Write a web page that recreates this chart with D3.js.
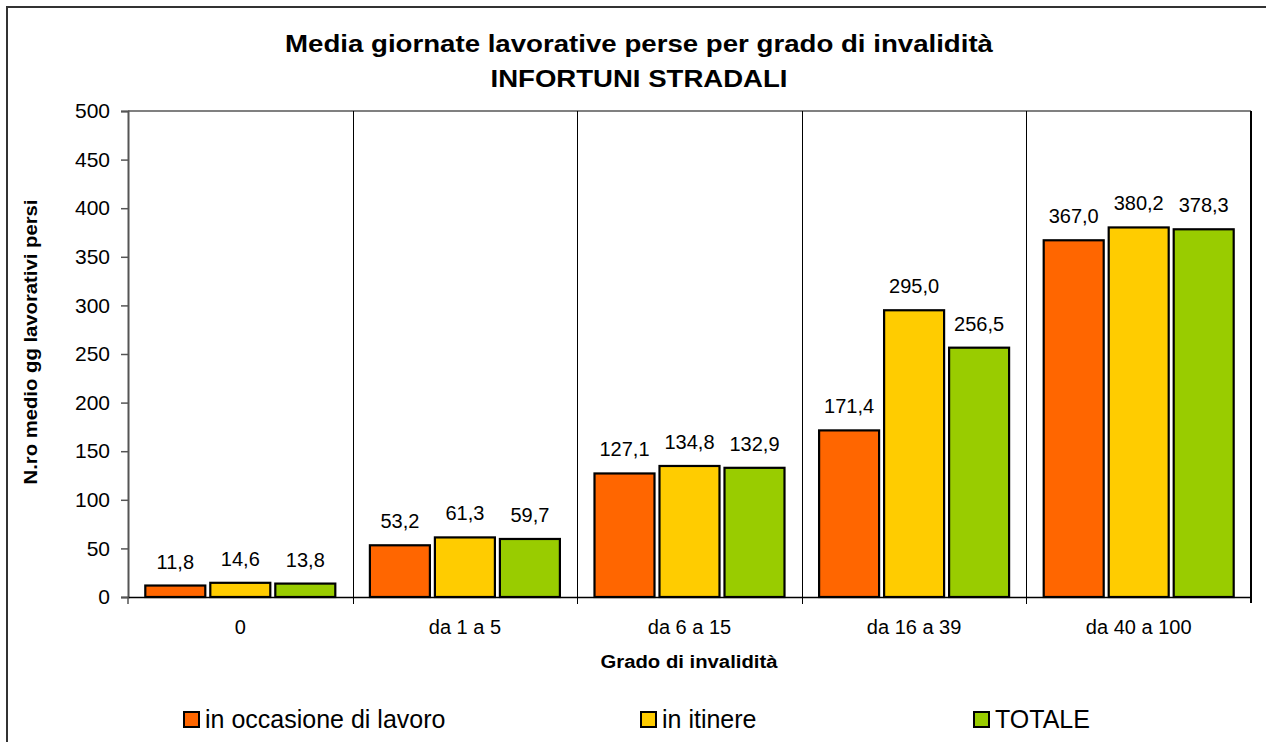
<!DOCTYPE html>
<html>
<head>
<meta charset="utf-8">
<script src="https://cdn.jsdelivr.net/npm/d3@7"></script>
<style>
  html, body { margin: 0; padding: 0; background: #fff; }
  svg { display: block; font-family: "Liberation Sans", Arial, sans-serif; }
</style>
</head>
<body>
<svg id="chart" width="1266" height="742"></svg>
<script>
// Categories (grado di invalidità)
const categories = ["0", "da 1 a 5", "da 6 a 15", "da 16 a 39", "da 40 a 100"];
// Series names
const seriesNames = ["in occasione di lavoro", "in itinere", "TOTALE"];
// Series values (media giornate perse)
const lavoro   = [11.8, 53.2, 127.1, 171.4, 367.0];
const itinere  = [14.6, 61.3, 134.8, 295.0, 380.2];
const totale   = [13.8, 59.7, 132.9, 256.5, 378.3];
// Y axis ticks
const yTicks = [0, 50, 100, 150, 200, 250, 300, 350, 400, 450, 500];

const seriesValues = [lavoro, itinere, totale];
const colors = ["#FF6600", "#FFCC00", "#99CC00"];

const svg = d3.select("#chart");

// Outer chart border
svg.append("rect")
  .attr("x", 7).attr("y", 7).attr("width", 1300).attr("height", 800)
  .attr("fill", "#fff").attr("stroke", "#333").attr("stroke-width", 2);

const plot = { left: 128, right: 1251, top: 111, bottom: 597 };

const x = d3.scaleBand().domain(categories).range([plot.left, plot.right]).padding(0);
const inner = d3.scaleBand().domain(d3.range(3))
  .range([17.3, x.bandwidth() - 17.3]).paddingInner(5 / 65).paddingOuter(0);
const y = d3.scaleLinear().domain([0, 500]).range([plot.bottom, plot.top]);

// Plot frame: top gray, right dark
svg.append("line").attr("x1", plot.left).attr("x2", plot.right)
  .attr("y1", plot.top).attr("y2", plot.top)
  .attr("stroke", "#808080").attr("stroke-width", 2);
svg.append("line").attr("x1", plot.right).attr("x2", plot.right)
  .attr("y1", plot.top).attr("y2", plot.bottom + 6)
  .attr("stroke", "#000").attr("stroke-width", 2);

// Category separators
svg.append("g").selectAll("line")
  .data(categories.slice(1))
  .join("line")
  .attr("x1", d => Math.round(x(d)) + 0.5)
  .attr("x2", d => Math.round(x(d)) + 0.5)
  .attr("y1", plot.top).attr("y2", plot.bottom + 7)
  .attr("stroke", "#000").attr("stroke-width", 1);

// Y axis
const yAxis = d3.axisLeft(y).tickValues(yTicks).tickSize(7).tickPadding(11).tickFormat(d3.format("d"));
const gy = svg.append("g").attr("transform", `translate(${plot.left},0)`).call(yAxis);
gy.select(".domain").attr("stroke", "#555").attr("stroke-width", 2);
gy.selectAll(".tick line").attr("stroke", "#555").attr("stroke-width", 1.5);
gy.selectAll(".tick text").attr("font-size", 21).attr("fill", "#000")
  .attr("font-family", "Liberation Sans, Arial, sans-serif");

// X axis
const xAxis = d3.axisBottom(x).tickSize(0).tickPadding(23);
const gx = svg.append("g").attr("transform", `translate(0,${plot.bottom})`).call(xAxis);
gx.select(".domain").attr("stroke", "#000").attr("stroke-width", 1.5);
gx.selectAll(".tick text").attr("font-size", 20).attr("fill", "#000")
  .attr("font-family", "Liberation Sans, Arial, sans-serif");
svg.append("line").attr("x1", plot.left).attr("x2", plot.left)
  .attr("y1", plot.bottom).attr("y2", plot.bottom + 7)
  .attr("stroke", "#555").attr("stroke-width", 1.5);

// Bars and value labels
const fmt = v => d3.format(".1f")(v).replace(".", ",");
seriesValues.forEach((vals, s) => {
  const g = svg.append("g");
  g.selectAll("rect")
    .data(vals)
    .join("rect")
    .attr("x", (d, i) => x(categories[i]) + inner(s))
    .attr("width", inner.bandwidth())
    .attr("y", d => y(d))
    .attr("height", d => y(0) - y(d))
    .attr("fill", colors[s])
    .attr("stroke", "#000").attr("stroke-width", 2.2);
  g.selectAll("text")
    .data(vals)
    .join("text")
    .attr("x", (d, i) => x(categories[i]) + inner(s) + inner.bandwidth() / 2)
    .attr("y", d => y(d) - 17)
    .attr("text-anchor", "middle")
    .attr("font-size", 20)
    .attr("fill", "#000")
    .text(d => fmt(d));
});

// Title
svg.append("text").attr("x", 639).attr("y", 52).attr("text-anchor", "middle")
  .attr("font-size", 23).attr("font-weight", "bold")
  .attr("textLength", 708).attr("lengthAdjust", "spacingAndGlyphs")
  .text("Media giornate lavorative perse per grado di invalidità");
svg.append("text").attr("x", 639).attr("y", 87).attr("text-anchor", "middle")
  .attr("font-size", 23).attr("font-weight", "bold")
  .attr("textLength", 297).attr("lengthAdjust", "spacingAndGlyphs")
  .text("INFORTUNI STRADALI");

// Axis titles
svg.append("text").attr("x", 689).attr("y", 668).attr("text-anchor", "middle")
  .attr("font-size", 18).attr("font-weight", "bold")
  .attr("textLength", 177).attr("lengthAdjust", "spacingAndGlyphs")
  .text("Grado di invalidità");
svg.append("text")
  .attr("transform", "translate(37,342) rotate(-90)")
  .attr("text-anchor", "middle")
  .attr("font-size", 18).attr("font-weight", "bold")
  .attr("textLength", 285).attr("lengthAdjust", "spacingAndGlyphs")
  .text("N.ro medio gg lavorativi persi");

// Legend
const legendX = [183, 640, 973];
const legend = svg.append("g").selectAll("g")
  .data(seriesNames)
  .join("g")
  .attr("transform", (d, i) => `translate(${legendX[i]},711)`);
legend.append("rect")
  .attr("x", 1).attr("y", 1).attr("width", 15).attr("height", 15)
  .attr("fill", (d, i) => colors[i])
  .attr("stroke", "#000").attr("stroke-width", 2);
legend.append("text")
  .attr("x", 22).attr("y", 17)
  .attr("font-size", 25)
  .attr("fill", "#000")
  .text(d => d);
</script>
</body>
</html>
